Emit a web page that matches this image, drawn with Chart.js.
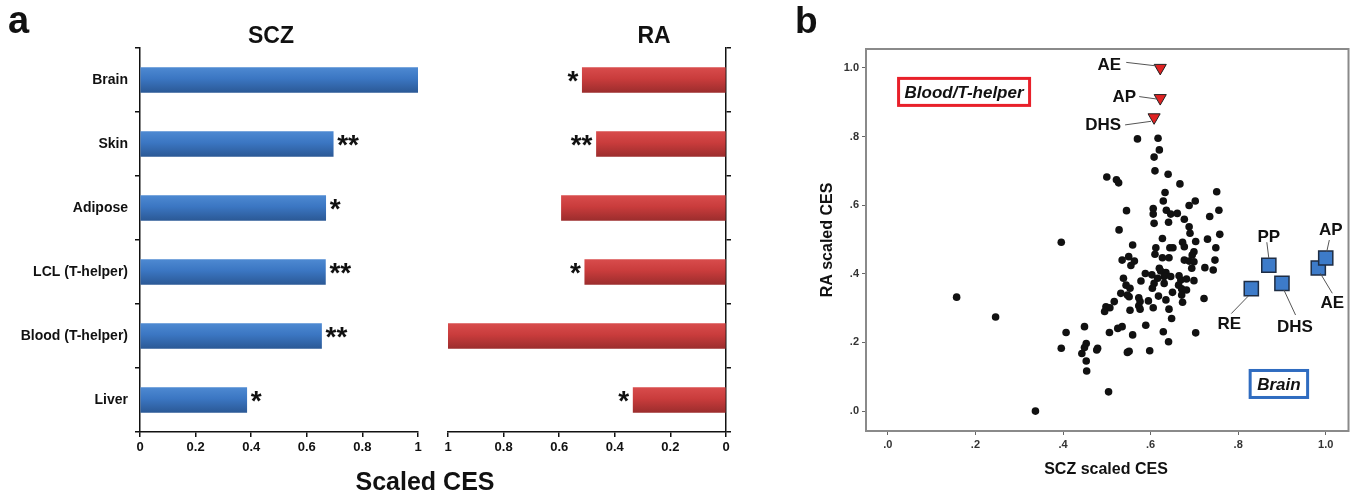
<!DOCTYPE html>
<html>
<head>
<meta charset="utf-8">
<script src="https://cdn.jsdelivr.net/npm/chart.js@4.4.1/dist/chart.umd.min.js"></script>
<style>
  body { margin: 0; background: #fff; width: 1360px; height: 496px; overflow: hidden; position: relative; }
  canvas { position: absolute; top: 0; }
</style>
</head>
<body>
<canvas id="scz" width="760" height="496" style="left:0"></canvas>
<canvas id="ra" width="330" height="496" style="left:430px"></canvas>
<canvas id="scatter" width="570" height="496" style="left:790px"></canvas>
<script>
// ---- panel a data ----
const tissues = ['Brain', 'Skin', 'Adipose', 'LCL (T-helper)', 'Blood (T-helper)', 'Liver'];
const sczValues = [1.0, 0.695, 0.668, 0.667, 0.653, 0.384];
const raValues = [0.517, 0.466, 0.592, 0.508, 1.0, 0.334];
const sczStars = ['', '**', '*', '**', '**', '*'];
const raStars = ['*', '**', '', '*', '', '*'];

// ---- panel b data ----
const otherX = [
  // upper part
  0.570, 0.617, 0.620, 0.608, 0.610, 0.640, 0.500, 0.522, 0.527, 0.667, 0.751, 0.633, 0.629, 0.702, 0.688,
  0.545, 0.606, 0.606, 0.636, 0.646, 0.661, 0.756, 0.735, 0.677, 0.608, 0.641, 0.688, 0.528, 0.690, 0.758,
  // core
  0.627, 0.673, 0.677, 0.703, 0.730, 0.559, 0.612, 0.644, 0.651, 0.749, 0.699, 0.695, 0.610, 0.627, 0.642,
  0.677, 0.688, 0.699, 0.747, 0.535, 0.550, 0.563, 0.555, 0.694, 0.724, 0.743, 0.620, 0.588, 0.603, 0.623,
  0.635, 0.631, 0.616, 0.646, 0.665, 0.669, 0.682, 0.699, 0.578, 0.538, 0.608, 0.604, 0.631, 0.664, 0.671,
  0.544, 0.553, 0.682, 0.532, 0.551, 0.517, 0.573, 0.576, 0.618, 0.650, 0.671, 0.635, 0.595, 0.722, 0.673,
  0.498, 0.507, 0.553, 0.573, 0.576, 0.606, 0.642, 0.547, 0.495,
  // lower part and outliers
  0.648, 0.449, 0.407, 0.396, 0.506, 0.525, 0.535, 0.559, 0.589, 0.629, 0.641, 0.703, 0.453, 0.449, 0.443,
  0.453, 0.454, 0.479, 0.477, 0.551, 0.547, 0.598, 0.504, 0.396, 0.157, 0.246, 0.337];
const otherY = [
  0.793, 0.795, 0.761, 0.740, 0.700, 0.690, 0.682, 0.674, 0.665, 0.662, 0.639, 0.637, 0.612, 0.612, 0.599,
  0.584, 0.590, 0.574, 0.585, 0.574, 0.576, 0.585, 0.567, 0.559, 0.547, 0.550, 0.537, 0.528, 0.518, 0.515,
  0.503, 0.492, 0.479, 0.494, 0.501, 0.484, 0.476, 0.476, 0.476, 0.476, 0.464, 0.455, 0.457, 0.447, 0.447,
  0.440, 0.437, 0.435, 0.440, 0.440, 0.450, 0.437, 0.424, 0.416, 0.418, 0.411, 0.416, 0.401, 0.397, 0.408,
  0.404, 0.392, 0.387, 0.392, 0.394, 0.382, 0.385, 0.380, 0.379, 0.387, 0.372, 0.358, 0.372, 0.367, 0.356,
  0.367, 0.358, 0.353, 0.343, 0.333, 0.319, 0.330, 0.319, 0.335, 0.346, 0.338, 0.324, 0.321, 0.328, 0.317,
  0.304, 0.301, 0.294, 0.307, 0.297, 0.301, 0.297, 0.338, 0.290,
  0.270, 0.246, 0.229, 0.183, 0.229, 0.241, 0.246, 0.222, 0.250, 0.231, 0.202, 0.228, 0.197, 0.185, 0.168,
  0.146, 0.117, 0.183, 0.178, 0.174, 0.171, 0.176, 0.056, 0.492, 0.332, 0.274, 0.000];
const bloodLabels = ['AE', 'AP', 'DHS'];
const bloodX = [0.622, 0.622, 0.608];
const bloodY = [1.000, 0.912, 0.856];
const brainLabels = ['RE', 'PP', 'DHS', 'AE', 'AP'];
const brainX = [0.830, 0.870, 0.900, 0.983, 1.000];
const brainY = [0.357, 0.425, 0.372, 0.417, 0.446];

// callout layout: text offset (tx, ty), leader line from (x1, y1) to (x2, y2), px relative to the marker
const bloodCallouts = [[-51, -4, -34, -5.5, -4, -2], [-36, -1.5, -21, -1.5, -3, 1], [-51, 7.5, -29, 7.6, -3, 4]];
const brainCallouts = [[-22, 34.5, -20, 25, -3, 7.5], [0, -29, -2, -23, 0, -7], [13, 42.6, 2, 6.6, 13.6, 31.6],
  [14, 34, 2, 5.3, 14, 25.3], [5, -29, 3.6, -18, 1, -6.3]];

const FONT = 'Arial, "Liberation Sans", sans-serif';
Chart.defaults.font.family = FONT;

function barFill(top, mid, bottom) {
  return (c) => {
    const ys = c.chart.scales.y;
    if (!ys || c.dataIndex === undefined) return mid;
    const yc = ys.getPixelForValue(c.dataIndex);
    if (!isFinite(yc)) return mid;
    const g = c.chart.ctx.createLinearGradient(0, yc - 12.5, 0, yc + 12.5);
    g.addColorStop(0, top);
    g.addColorStop(0.45, mid);
    g.addColorStop(1, bottom);
    return g;
  };
}

const starPlugin = {
  id: 'stars',
  afterDatasetsDraw(chart, args, opts) {
    const ctx = chart.ctx;
    const meta = chart.getDatasetMeta(0);
    ctx.save();
    ctx.font = 'bold 28px ' + FONT;
    ctx.fillStyle = '#111';
    meta.data.forEach((bar, i) => {
      const s = opts.marks[i];
      if (!s) return;
      if (opts.side === 'right') {
        ctx.textAlign = 'left';
        ctx.fillText(s, bar.x + 4, bar.y + 10);
      } else {
        ctx.textAlign = 'right';
        ctx.fillText(s, bar.x - 4, bar.y + 10);
      }
    });
    ctx.restore();
  }
};

const textPlugin = {
  id: 'texts',
  afterDraw(chart, args, opts) {
    const ctx = chart.ctx;
    (opts.items || []).forEach(t => {
      ctx.save();
      ctx.font = t.font;
      ctx.fillStyle = '#111';
      ctx.textAlign = t.align || 'center';
      ctx.textBaseline = t.baseline || 'alphabetic';
      ctx.translate(t.x, t.y);
      if (t.rotate) ctx.rotate(t.rotate);
      ctx.fillText(t.text, 0, 0);
      ctx.restore();
    });
  }
};

const axisLine = { color: '#111', width: 1.5 };
const tickGrid = { drawOnChartArea: false, tickLength: 5, color: '#111', lineWidth: 1.5 };
const tickFont = { size: 13, weight: 'bold' };
const plainNum = v => String(Math.round(v * 10) / 10);

new Chart(document.getElementById('scz'), {
  type: 'bar',
  data: {
    labels: tissues,
    datasets: [{ data: sczValues, backgroundColor: barFill('#4d89d2', '#3b76c2', '#2b5996'), barThickness: 25 }]
  },
  options: {
    indexAxis: 'y', responsive: false, animation: false,
    layout: { padding: { top: 48, right: 342, left: 0, bottom: 0 } },
    plugins: {
      legend: { display: false }, tooltip: { enabled: false },
      stars: { marks: sczStars, side: 'right' },
      texts: { items: [
        { text: 'a', x: 8, y: 33, font: 'bold 38px ' + FONT, align: 'left' },
        { text: 'SCZ', x: 271, y: 43, font: 'bold 23px ' + FONT },
        { text: 'Scaled CES', x: 425, y: 490, font: 'bold 25px ' + FONT }
      ] }
    },
    scales: {
      x: {
        min: 0, max: 1,
        ticks: { stepSize: 0.2, font: tickFont, color: '#111', padding: 3, callback: plainNum },
        grid: tickGrid, border: axisLine,
        afterFit: s => { s.height = 64; }
      },
      y: {
        ticks: { font: { size: 14, weight: 'bold' }, color: '#111', padding: 7 },
        grid: tickGrid, border: axisLine,
        afterFit: s => { s.width = 140; }
      }
    }
  },
  plugins: [starPlugin, textPlugin]
});

new Chart(document.getElementById('ra'), {
  type: 'bar',
  data: {
    labels: tissues,
    datasets: [{ data: raValues, backgroundColor: barFill('#d84c4c', '#c93c3c', '#9c2d2d'), barThickness: 25 }]
  },
  options: {
    indexAxis: 'y', responsive: false, animation: false,
    layout: { padding: { top: 48, right: 0, left: 18, bottom: 0 } },
    plugins: {
      legend: { display: false }, tooltip: { enabled: false },
      stars: { marks: raStars, side: 'left' },
      texts: { items: [{ text: 'RA', x: 224, y: 43, font: 'bold 23px ' + FONT }] }
    },
    scales: {
      x: {
        min: 0, max: 1, reverse: true,
        ticks: { stepSize: 0.2, font: tickFont, color: '#111', padding: 3, callback: plainNum },
        grid: tickGrid, border: axisLine,
        afterFit: s => { s.height = 64; }
      },
      y: {
        position: 'right',
        ticks: { callback: () => '' },
        grid: tickGrid, border: axisLine,
        afterFit: s => { s.width = 34; }
      }
    }
  },
  plugins: [starPlugin, textPlugin]
});

// ---- panel b ----
const calloutPlugin = {
  id: 'callouts',
  afterDatasetsDraw(chart, args, opts) {
    const ctx = chart.ctx;
    const a = chart.chartArea;
    ctx.save();
    ctx.strokeStyle = '#8a8a8a';
    ctx.lineWidth = 2;
    ctx.strokeRect(a.left, a.top, a.right - a.left, a.bottom - a.top);
    opts.groups.forEach(g => {
      const meta = chart.getDatasetMeta(g.dataset);
      meta.data.forEach((pt, i) => {
        const c = g.layout[i];
        ctx.strokeStyle = '#555';
        ctx.lineWidth = 1;
        ctx.beginPath();
        ctx.moveTo(pt.x + c[2], pt.y + c[3]);
        ctx.lineTo(pt.x + c[4], pt.y + c[5]);
        ctx.stroke();
        ctx.font = 'bold 17px ' + FONT;
        ctx.fillStyle = '#111';
        ctx.textAlign = 'center';
        ctx.textBaseline = 'middle';
        ctx.fillText(g.labels[i], pt.x + c[0], pt.y + c[1] + 1);
      });
    });
    const xs = chart.scales.x, ys = chart.scales.y;
    opts.boxes.forEach(b => {
      const cx = xs.getPixelForValue(b.x), cy = ys.getPixelForValue(b.y);
      ctx.font = 'italic bold 17px ' + FONT;
      const w = ctx.measureText(b.text).width + b.pad * 2;
      const h = 27;
      ctx.fillStyle = '#fff';
      ctx.fillRect(cx - w / 2, cy - h / 2, w, h);
      ctx.strokeStyle = b.color;
      ctx.lineWidth = 3;
      ctx.strokeRect(cx - w / 2, cy - h / 2, w, h);
      ctx.fillStyle = '#111';
      ctx.textAlign = 'center';
      ctx.textBaseline = 'middle';
      ctx.fillText(b.text, cx, cy + 1);
    });
    ctx.restore();
  }
};

const toPts = (xs, ys) => xs.map((x, i) => ({ x: x, y: ys[i] }));
const fmt = v => { const r = Math.round(v * 10); return r === 10 ? '1.0' : '.' + r; };
const scGrid = { drawOnChartArea: false, tickLength: 4, color: '#666', lineWidth: 1 };
const scTicks = { stepSize: 0.2, includeBounds: false, font: { size: 11, weight: 'bold' }, color: '#333', padding: 3, callback: fmt };

new Chart(document.getElementById('scatter'), {
  type: 'scatter',
  data: {
    datasets: [
      { data: toPts(otherX, otherY), pointRadius: 3.8, backgroundColor: '#111', borderWidth: 0 },
      { data: toPts(bloodX, bloodY), pointStyle: 'triangle', rotation: 180, pointRadius: 7,
        backgroundColor: '#e02222', borderColor: '#222', borderWidth: 1 },
      { data: toPts(brainX, brainY), pointStyle: 'rect', pointRadius: 10,
        backgroundColor: '#3d7bc9', borderColor: '#1e2d44', borderWidth: 1.5 }
    ]
  },
  options: {
    responsive: false, animation: false,
    layout: { padding: { top: 49, right: 10, left: 0, bottom: 0 } },
    plugins: {
      legend: { display: false }, tooltip: { enabled: false },
      callouts: {
        groups: [
          { dataset: 1, labels: bloodLabels, layout: bloodCallouts },
          { dataset: 2, labels: brainLabels, layout: brainCallouts }
        ],
        boxes: [
          { text: 'Blood/T-helper', x: 0.174, y: 0.930, color: '#e8202a', pad: 6 },
          { text: 'Brain', x: 0.893, y: 0.079, color: '#2f6cc0', pad: 7 }
        ]
      },
      texts: { items: [
        { text: 'b', x: 5, y: 33, font: 'bold 37px ' + FONT, align: 'left' },
        { text: 'SCZ scaled CES', x: 316, y: 470, font: 'bold 16px ' + FONT, baseline: 'middle' },
        { text: 'RA scaled CES', x: 38, y: 240, font: 'bold 16px ' + FONT, baseline: 'middle', rotate: -Math.PI / 2 }
      ] }
    },
    scales: {
      x: { min: -0.05, max: 1.052, ticks: scTicks, grid: scGrid, border: { display: false },
        afterFit: s => { s.height = 65; } },
      y: { min: -0.058, max: 1.055, ticks: scTicks, grid: scGrid, border: { display: false },
        afterFit: s => { s.width = 76; } }
    }
  },
  plugins: [calloutPlugin, textPlugin]
});
</script>
</body>
</html>
